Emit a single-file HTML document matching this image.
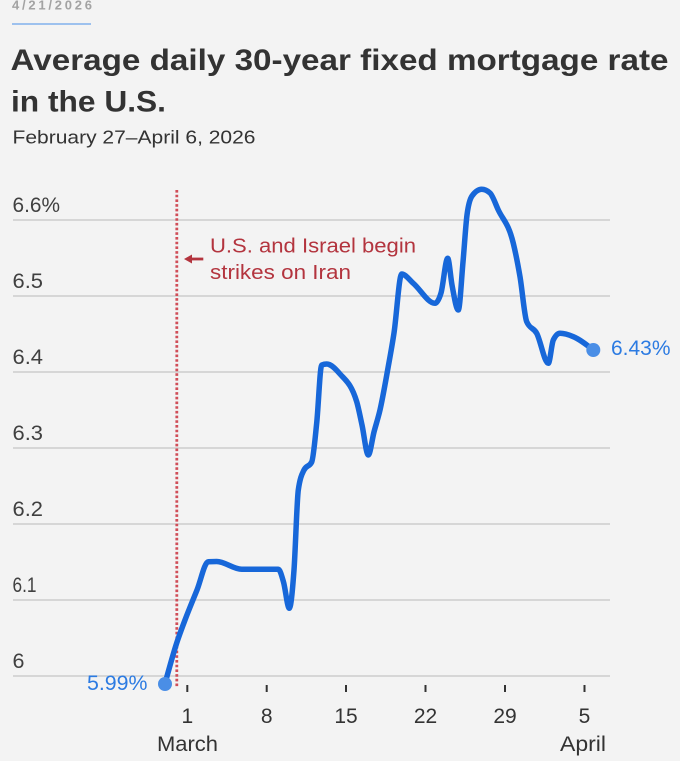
<!DOCTYPE html>
<html>
<head>
<meta charset="utf-8">
<style>
  html, body { margin:0; padding:0; background:#f3f3f3; }
  body { width:680px; height:761px; overflow:hidden; }
  svg { display:block; }
  text { font-family: "Liberation Sans", "DejaVu Sans", sans-serif; }
</style>
</head>
<body>
<svg width="680" height="761" viewBox="0 0 680 761" xmlns="http://www.w3.org/2000/svg">
  <rect x="0" y="0" width="680" height="761" fill="#f3f3f3"/>

  <!-- date header -->
  <text x="12" y="9.5" font-size="13" font-weight="bold" fill="#a3a3a3" textLength="80" lengthAdjust="spacing">4/21/2026</text>
  <line x1="12" y1="24" x2="91" y2="24" stroke="#6aa3ea" stroke-width="1.3"/>

  <!-- title -->
  <text x="10.5" y="70" font-size="30" font-weight="bold" fill="#333333" textLength="658" lengthAdjust="spacingAndGlyphs">Average daily 30-year fixed mortgage rate</text>
  <text x="11" y="111.5" font-size="30" font-weight="bold" fill="#333333" textLength="155" lengthAdjust="spacingAndGlyphs">in the U.S.</text>
  <text x="12.5" y="143.5" font-size="18" fill="#333333" textLength="243" lengthAdjust="spacingAndGlyphs">February 27–April 6, 2026</text>

  <!-- gridlines -->
  <g stroke="#cdcdcd" stroke-width="1.5">
    <line x1="13" y1="220" x2="610" y2="220"/>
    <line x1="13" y1="296" x2="610" y2="296"/>
    <line x1="13" y1="372" x2="610" y2="372"/>
    <line x1="13" y1="448" x2="610" y2="448"/>
    <line x1="13" y1="524" x2="610" y2="524"/>
    <line x1="13" y1="600" x2="610" y2="600"/>
    <line x1="13" y1="676" x2="610" y2="676"/>
  </g>

  <!-- y labels -->
  <g font-size="21.5" fill="#404040">
    <text x="12.5" y="212" textLength="47.5" lengthAdjust="spacingAndGlyphs">6.6%</text>
    <text x="12.5" y="288" textLength="30.5" lengthAdjust="spacingAndGlyphs">6.5</text>
    <text x="12.5" y="364" textLength="30.5" lengthAdjust="spacingAndGlyphs">6.4</text>
    <text x="12.5" y="440" textLength="30.5" lengthAdjust="spacingAndGlyphs">6.3</text>
    <text x="12.5" y="516" textLength="30.5" lengthAdjust="spacingAndGlyphs">6.2</text>
    <text x="12.5" y="592" textLength="24" lengthAdjust="spacingAndGlyphs">6.1</text>
    <text x="12.5" y="668">6</text>
  </g>

  <!-- x ticks -->
  <g stroke="#333333" stroke-width="2">
    <line x1="187.3" y1="685" x2="187.3" y2="692"/>
    <line x1="266.7" y1="685" x2="266.7" y2="692"/>
    <line x1="346" y1="685" x2="346" y2="692"/>
    <line x1="425.5" y1="685" x2="425.5" y2="692"/>
    <line x1="505" y1="685" x2="505" y2="692"/>
    <line x1="584.5" y1="685" x2="584.5" y2="692"/>
  </g>
  <g font-size="21" fill="#333333" text-anchor="middle">
    <text x="187.3" y="723">1</text>
    <text x="266.7" y="723">8</text>
    <text x="346" y="723">15</text>
    <text x="425.5" y="723">22</text>
    <text x="505" y="723">29</text>
    <text x="584.5" y="723">5</text>
    <text x="187.5" y="751" textLength="61" lengthAdjust="spacingAndGlyphs">March</text>
    <text x="583" y="751" textLength="46" lengthAdjust="spacingAndGlyphs">April</text>
  </g>

  <!-- event line -->
  <line x1="176.8" y1="190" x2="176.8" y2="688" stroke="#d04e58" stroke-width="2.8" stroke-dasharray="2.6 2.1"/>
  <!-- arrow -->
  <line x1="190" y1="259" x2="203.3" y2="259" stroke="#b3343e" stroke-width="2.8"/>
  <polygon points="184,259 192,254.5 192,263.5" fill="#b3343e"/>
  <g font-size="20.5" fill="#b3343e">
    <text x="210" y="252.3" textLength="206" lengthAdjust="spacingAndGlyphs">U.S. and Israel begin</text>
    <text x="210" y="279" textLength="141" lengthAdjust="spacingAndGlyphs">strikes on Iran</text>
  </g>

  <!-- series -->
  <path id="ln" fill="none" stroke="#1767d9" stroke-width="5.5" stroke-linecap="round" stroke-linejoin="round"
    d="M165,683.6 L176.7,643 L185,620 L197,590 L208.3,561.7 L216.7,561.5 L241.7,569.3 L278.3,569.3 L283.5,582 L289.3,608.3 L294,570 L298.3,490 L304,470 L311.7,462 L316.7,423 L321.7,365 L326.7,364 L340,374 L356.7,401.7 L362,425 L368.3,455 L374,432 L380,410 L388,368 L394,333 L401.7,274 L413.3,283.3 L435,303.3 L441,293 L447.7,258.3 L452,285 L458.3,310 L463,262 L467,215 L472,196 L481.7,189.3 L490,193 L498.3,210 L513.3,243.3 L520,276.7 L526.7,321.7 L536.7,333.3 L548.3,363.3 L553.3,340 L560,333.3 L573.3,336.7 L593.3,350"/>

  <circle cx="165" cy="684" r="7" fill="#4a8ee6"/>
  <circle cx="593.3" cy="350" r="7" fill="#4a8ee6"/>

  <g font-size="21" fill="#2c7be2">
    <text x="147.5" y="690" text-anchor="end" textLength="60.5" lengthAdjust="spacingAndGlyphs">5.99%</text>
    <text x="611" y="355" textLength="59.5" lengthAdjust="spacingAndGlyphs">6.43%</text>
  </g>
</svg>
<script>
(function(){
  var p = [[165,683.6],[176.7,643],[185,620],[197,590],[208.3,561.7],[216.7,561.5],[241.7,569.3],[278.3,569.3],[283.5,582],[289.3,608.3],[294,570],[298.3,490],[304,470],[311.7,462],[316.7,423],[321.7,365],[326.7,364],[340,374],[356.7,401.7],[362,425],[368.3,455],[374,432],[380,410],[388,368],[394,333],[401.7,274],[413.3,283.3],[435,303.3],[441,293],[447.7,258.3],[452,285],[458.3,310],[463,262],[467,215],[472,196],[481.7,189.3],[490,193],[498.3,210],[513.3,243.3],[520,276.7],[526.7,321.7],[536.7,333.3],[548.3,363.3],[553.3,340],[560,333.3],[573.3,336.7],[593.3,350]];
  function sgn(v){return v<0?-1:(v>0?1:0);}
  var n=p.length, t=new Array(n);
  for(var i=1;i<n-1;i++){
    var h0=p[i][0]-p[i-1][0], h1=p[i+1][0]-p[i][0];
    var s0=(p[i][1]-p[i-1][1])/h0, s1=(p[i+1][1]-p[i][1])/h1;
    var pp=(s0*h1+s1*h0)/(h0+h1);
    t[i]=(sgn(s0)+sgn(s1))*Math.min(Math.abs(s0),Math.abs(s1),0.5*Math.abs(pp))||0;
  }
  var h=p[1][0]-p[0][0]; t[0]=(3*(p[1][1]-p[0][1])/h - t[1])/2;
  h=p[n-1][0]-p[n-2][0]; t[n-1]=(3*(p[n-1][1]-p[n-2][1])/h - t[n-2])/2;
  var d="M"+p[0][0]+","+p[0][1];
  for(var j=0;j<n-1;j++){
    var dx=(p[j+1][0]-p[j][0])/3;
    d+=" C"+(p[j][0]+dx).toFixed(2)+","+(p[j][1]+dx*t[j]).toFixed(2)+" "+(p[j+1][0]-dx).toFixed(2)+","+(p[j+1][1]-dx*t[j+1]).toFixed(2)+" "+p[j+1][0]+","+p[j+1][1];
  }
  document.getElementById("ln").setAttribute("d",d);
})();
</script>
</body>
</html>
